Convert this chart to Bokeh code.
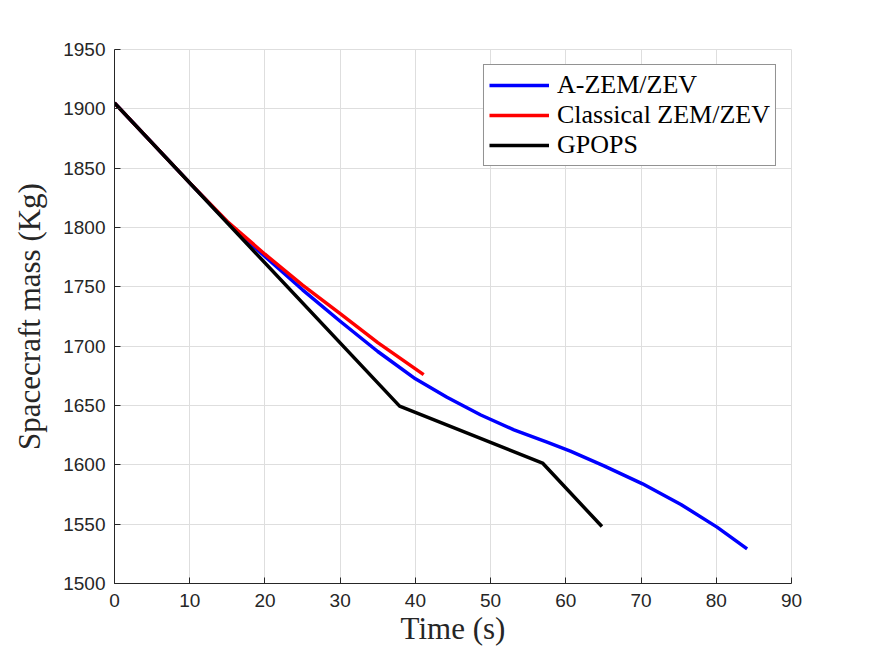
from bokeh.plotting import figure
from bokeh.models import Legend, LegendItem, FixedTicker, Range1d
from bokeh.embed import file_html
from bokeh.resources import INLINE

# A-ZEM/ZEV
t_azem = [0, 5, 10, 15, 20, 25, 30, 35, 40, 44.2, 48.7, 53.1, 57.5, 60.6,
          65, 70.2, 75.3, 80.1, 84.1]
m_azem = [1905, 1871.3, 1837.6, 1804.5, 1775.5, 1747.5, 1721, 1695.5, 1672.5,
          1657, 1642, 1629.5, 1619.1, 1611.5, 1599.4, 1584, 1566.6, 1547.5, 1529.2]

# Classical ZEM/ZEV
t_class = [0, 5, 10, 15, 20, 25, 30, 35, 41.1]
m_class = [1905, 1871.3, 1837.6, 1805, 1777.5, 1751.5, 1727.5, 1703, 1676]

# GPOPS
t_gpops = [0, 37.9, 56.9, 64.8]
m_gpops = [1905, 1649.5, 1601.5, 1548]

x_ticks = [0, 10, 20, 30, 40, 50, 60, 70, 80, 90]
y_ticks = [1500, 1550, 1600, 1650, 1700, 1750, 1800, 1850, 1900, 1950]

p = figure(width=867, height=648, output_backend="svg", toolbar_location=None,
           x_range=Range1d(0, 90), y_range=Range1d(1500, 1950),
           min_border_left=114, min_border_right=76, min_border_top=49,
           min_border_bottom=65, background_fill_color="white",
           border_fill_color="white")

p.outline_line_color = "#dedede"
p.outline_line_width = 1

for ax in (p.xaxis, p.yaxis):
    ax.axis_line_color = "#262626"
    ax.axis_line_width = 1
    ax.major_tick_in = 6
    ax.major_tick_out = 0
    ax.major_tick_line_color = "#262626"
    ax.minor_tick_line_color = None
    ax.major_label_text_font = "Liberation Sans"
    ax.major_label_text_font_size = "19px"
    ax.major_label_text_color = "#262626"
    ax.axis_label_text_font = "Liberation Serif"
    ax.axis_label_text_font_size = "31px"
    ax.axis_label_text_font_style = "normal"
    ax.axis_label_text_color = "#262626"

p.xaxis.ticker = FixedTicker(ticks=x_ticks)
p.yaxis.ticker = FixedTicker(ticks=y_ticks)
p.xaxis.axis_label = "Time (s)"
p.yaxis.axis_label = "Spacecraft mass (Kg)"
p.xaxis.major_label_standoff = 10
p.xaxis.axis_label_standoff = 1
p.yaxis.major_label_standoff = 9
p.yaxis.axis_label_standoff = 13

p.grid.grid_line_color = "#dedede"
p.grid.grid_line_width = 1

r1 = p.line(t_azem, m_azem, line_color="#0000ff", line_width=3.5, line_join="round")
r2 = p.line(t_class, m_class, line_color="#ff0000", line_width=3.5, line_join="round")
r3 = p.line(t_gpops, m_gpops, line_color="#000000", line_width=3.5)

legend = Legend(items=[
    LegendItem(label="A-ZEM/ZEV", renderers=[r1]),
    LegendItem(label="Classical ZEM/ZEV", renderers=[r2]),
    LegendItem(label="GPOPS", renderers=[r3]),
], location="top_right")
legend.margin = 15
legend.padding = 5
legend.spacing = 0
legend.glyph_width = 60
legend.glyph_height = 26
legend.label_height = 26
legend.label_standoff = 8
legend.label_text_font = "Liberation Serif"
legend.label_text_font_size = "26px"
legend.label_text_color = "#000000"
legend.border_line_color = "#262626"
legend.border_line_width = 1
legend.background_fill_color = "white"
legend.background_fill_alpha = 1.0
p.add_layout(legend)

open("out.html", "w").write(file_html(p, INLINE))
